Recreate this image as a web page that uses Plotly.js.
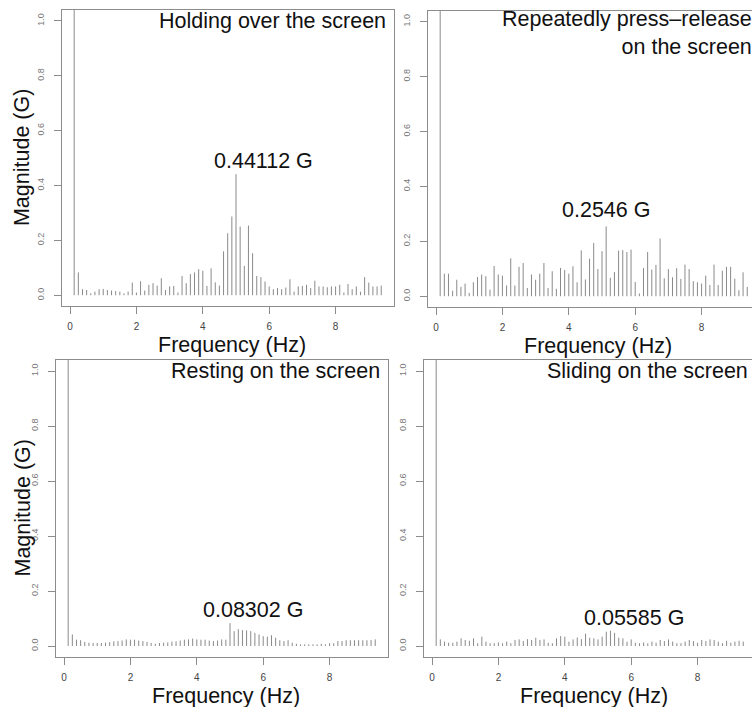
<!DOCTYPE html>
<html>
<head>
<meta charset="utf-8">
<script src="https://cdn.plot.ly/plotly-3.0.1.min.js"></script>
<style>
html,body{margin:0;padding:0;background:#fff;overflow:hidden;}
#chart{width:760px;height:707px;}
</style>
</head>
<body>
<div id="chart"></div>
<script>
// Frequency bins (Hz)
const freqHz = [0.125,0.25,0.375,0.5,0.625,0.75,0.875,1.0,1.125,1.25,1.375,1.5,1.625,1.75,1.875,2.0,2.125,2.25,2.375,2.5,2.625,2.75,2.875,3.0,3.125,3.25,3.375,3.5,3.625,3.75,3.875,4.0,4.125,4.25,4.375,4.5,4.625,4.75,4.875,5.0,5.125,5.25,5.375,5.5,5.625,5.75,5.875,6.0,6.125,6.25,6.375,6.5,6.625,6.75,6.875,7.0,7.125,7.25,7.375,7.5,7.625,7.75,7.875,8.0,8.125,8.25,8.375,8.5,8.625,8.75,8.875,9.0,9.125,9.25,9.375];

// Magnitudes (G); first bin runs off the top of the plot
const holdingMag = [1.2,0.083,0.022,0.019,0.007,0.013,0.022,0.023,0.019,0.017,0.015,0.013,0.007,0.013,0.046,0.010,0.051,0.017,0.038,0.044,0.035,0.062,0.019,0.032,0.034,0.010,0.070,0.044,0.077,0.083,0.095,0.089,0.034,0.098,0.047,0.035,0.160,0.226,0.287,0.44112,0.250,0.107,0.254,0.153,0.070,0.066,0.050,0.032,0.022,0.026,0.022,0.028,0.058,0.013,0.032,0.034,0.038,0.026,0.053,0.032,0.032,0.029,0.032,0.032,0.038,0.010,0.041,0.022,0.032,0.013,0.066,0.046,0.032,0.032,0.035];
const pressMag = [1.2,0.082,0.082,0.020,0.060,0.034,0.046,0.012,0.051,0.070,0.079,0.073,0.024,0.110,0.079,0.075,0.039,0.138,0.039,0.107,0.121,0.030,0.079,0.060,0.082,0.121,0.030,0.091,0.027,0.103,0.095,0.082,0.109,0.051,0.167,0.061,0.137,0.194,0.099,0.164,0.2546,0.067,0.088,0.166,0.168,0.161,0.170,0.052,0.010,0.103,0.161,0.097,0.114,0.210,0.065,0.099,0.069,0.102,0.063,0.115,0.099,0.055,0.051,0.046,0.075,0.041,0.115,0.041,0.093,0.107,0.107,0.064,0.022,0.087,0.034];
const restingMag = [1.2,0.042,0.023,0.021,0.015,0.012,0.011,0.011,0.011,0.012,0.014,0.017,0.018,0.020,0.024,0.023,0.023,0.020,0.018,0.015,0.011,0.008,0.011,0.012,0.013,0.016,0.017,0.020,0.023,0.024,0.027,0.024,0.023,0.023,0.020,0.018,0.020,0.024,0.023,0.08302,0.054,0.061,0.058,0.057,0.054,0.048,0.042,0.036,0.034,0.039,0.030,0.021,0.018,0.021,0.012,0.008,0.006,0.006,0.006,0.006,0.006,0.008,0.006,0.010,0.010,0.018,0.018,0.021,0.021,0.021,0.021,0.021,0.021,0.022,0.024];
const slidingMag = [1.2,0.024,0.016,0.012,0.012,0.016,0.028,0.022,0.019,0.028,0.010,0.034,0.016,0.010,0.010,0.013,0.010,0.016,0.010,0.022,0.024,0.018,0.025,0.022,0.030,0.022,0.024,0.012,0.010,0.028,0.036,0.034,0.016,0.024,0.031,0.025,0.045,0.030,0.028,0.024,0.034,0.052,0.05585,0.048,0.030,0.028,0.016,0.024,0.012,0.010,0.013,0.010,0.016,0.012,0.022,0.018,0.024,0.016,0.010,0.010,0.016,0.022,0.018,0.012,0.022,0.018,0.024,0.022,0.016,0.010,0.019,0.012,0.016,0.019,0.016];

const panelTitles = ["Holding over the screen","Repeatedly press\u2013release<br>on the screen","Resting on the screen","Sliding on the screen"];
const peakLabels = ["0.44112 G","0.2546 G","0.08302 G","0.05585 G"];
const xTickVals = [0,2,4,6,8];
const yTickVals = [0,0.2,0.4,0.6,0.8,1.0];
const yTickText = ["0.0","0.2","0.4","0.6","0.8","1.0"];
const xTitle = "Frequency (Hz)";
const yTitle = "Magnitude (G)";

const W = 760, H = 707;
const px = v => v / W;
const py = v => (H - v) / H;
const FONT = "Liberation Sans, Arial, Helvetica, sans-serif";
const BIG = 21.5;

function spikes(xs, ys) {
  const X = [], Y = [];
  for (let i = 0; i < xs.length; i++) { X.push(xs[i], xs[i], null); Y.push(0, ys[i], null); }
  return {X, Y};
}

const series = [holdingMag, pressMag, restingMag, slidingMag];
const traces = series.map((s, i) => {
  const sp = spikes(freqHz, s);
  return {
    type: 'scatter', mode: 'lines', x: sp.X, y: sp.Y,
    xaxis: i === 0 ? 'x' : 'x' + (i + 1), yaxis: i === 0 ? 'y' : 'y' + (i + 1),
    line: {color: '#8a8a8a', width: 1}, hoverinfo: 'skip', showlegend: false
  };
});

// panel boxes in pixels: [left, right, top, bottom]
const boxes = [
  [61.9, 393.5, 9.9, 306.2],
  [427.9, 759.5, 10.7, 307.2],
  [55.9, 387.5, 360, 657],
  [423.9, 755.5, 360, 657]
];

const layout = {
  width: W, height: H, margin: {l: 0, r: 0, t: 0, b: 0},
  paper_bgcolor: '#fff', plot_bgcolor: '#fff', showlegend: false,
  font: {family: FONT, color: '#111'},
  annotations: []
};

boxes.forEach((b, i) => {
  const sx = i === 0 ? '' : String(i + 1);
  layout['xaxis' + sx] = {
    domain: [px(b[0]), px(b[1])], range: [-0.245, 9.745], anchor: 'y' + sx,
    showline: true, mirror: true, linecolor: '#8c8c8c', linewidth: 1,
    showgrid: false, zeroline: false, ticks: 'outside', ticklen: 7, tickcolor: '#8c8c8c',
    tickmode: 'array', tickvals: xTickVals, ticktext: xTickVals.map(String),
    ticklabelstandoff: 4,
    tickfont: {family: FONT, size: 10, color: '#444'}
  };
  layout['yaxis' + sx] = {
    domain: [py(b[3]), py(b[2])], range: [-0.04, 1.04], anchor: 'x' + sx,
    showline: true, mirror: true, linecolor: '#8c8c8c', linewidth: 1,
    showgrid: false, zeroline: false, ticks: 'outside', ticklen: 7, tickcolor: '#8c8c8c',
    tickmode: 'array', tickvals: yTickVals, ticktext: yTickText, tickangle: -90,
    ticklabelstandoff: 6,
    tickfont: {family: FONT, size: 9, color: '#777'}
  };
  layout.annotations.push({
    text: xTitle, xref: 'paper', yref: 'paper', showarrow: false,
    x: px((b[0] + b[1]) / 2 + 4), y: py(b[3] + 38.5), xanchor: 'center', yanchor: 'middle',
    font: {family: FONT, size: BIG, color: '#111'}
  });
});

[0, 2].forEach(i => {
  const b = boxes[i];
  layout.annotations.push({
    text: yTitle, xref: 'paper', yref: 'paper', showarrow: false, textangle: -90,
    x: px(22), y: py((b[2] + b[3]) / 2), xanchor: 'center', yanchor: 'middle',
    font: {family: FONT, size: BIG, color: '#111'}
  });
});

const titlePos = [[388, 21], [754, 33], [382, 371], [750, 371]];
titlePos.forEach((p, i) => {
  layout.annotations.push({
    text: panelTitles[i], xref: 'paper', yref: 'paper', showarrow: false, align: 'right',
    x: px(p[0]), y: py(p[1]), xanchor: 'right', yanchor: 'middle',
    font: {family: FONT, size: BIG, color: '#111'}
  });
});

const peakPos = [[263.3, 161.5], [606, 210], [253.3, 609.7], [633.7, 618.3]];
peakPos.forEach((p, i) => {
  layout.annotations.push({
    text: peakLabels[i], xref: 'paper', yref: 'paper', showarrow: false,
    x: px(p[0]), y: py(p[1]), xanchor: 'center', yanchor: 'middle',
    font: {family: FONT, size: BIG, color: '#111'}
  });
});

Plotly.newPlot('chart', traces, layout, {staticPlot: true, displayModeBar: false});
</script>
</body>
</html>
